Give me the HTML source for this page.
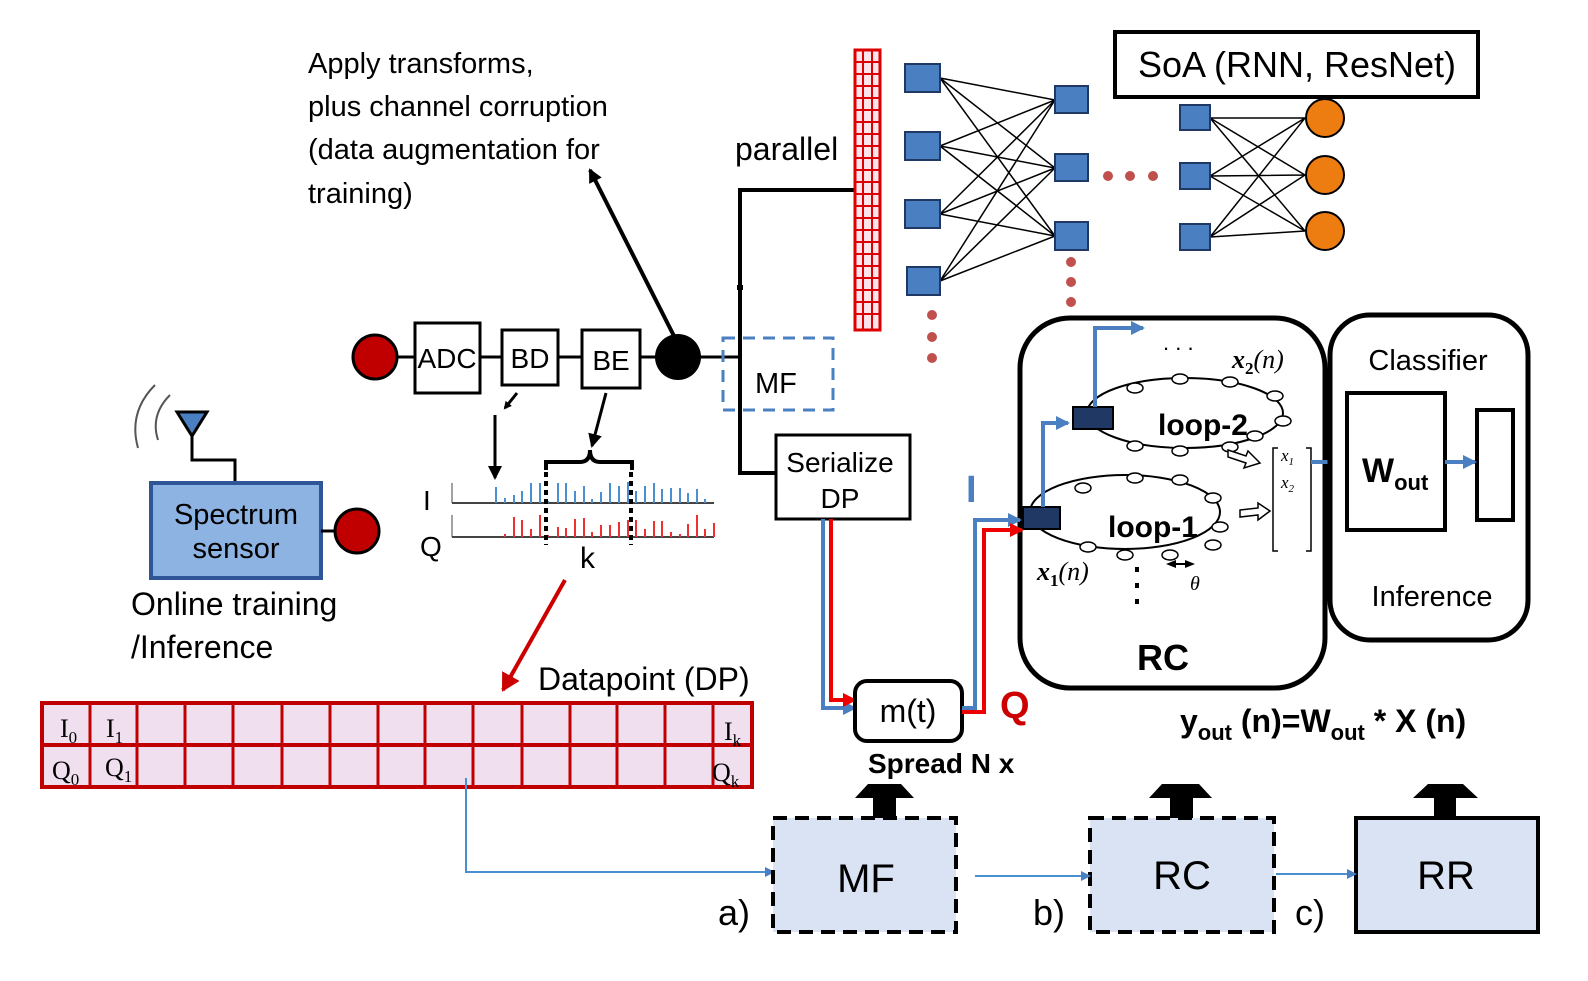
<!DOCTYPE html>
<html><head><meta charset="utf-8"><style>
body{margin:0;background:#fff}
svg{display:block;font-family:"Liberation Sans",sans-serif}
</style></head><body>
<svg width="1588" height="981" viewBox="0 0 1588 981" xmlns="http://www.w3.org/2000/svg">
<defs>
<marker id="ab" markerWidth="8" markerHeight="8" refX="6" refY="4" orient="auto" markerUnits="userSpaceOnUse"><path d="M0,0 L8,4 L0,8 z" fill="#000"/></marker>
<marker id="ab2" markerWidth="14" markerHeight="14" refX="12" refY="7" orient="auto" markerUnits="userSpaceOnUse"><path d="M0,0 L14,7 L0,14 z" fill="#000"/></marker>
<marker id="abl" markerWidth="14" markerHeight="14" refX="12" refY="7" orient="auto" markerUnits="userSpaceOnUse"><path d="M0,0 L14,7 L0,14 z" fill="#4a7fc1"/></marker>
<marker id="abls" markerWidth="10" markerHeight="10" refX="8" refY="5" orient="auto" markerUnits="userSpaceOnUse"><path d="M0,0 L10,5 L0,10 z" fill="#4a7fc1"/></marker>
<marker id="abr" markerWidth="14" markerHeight="14" refX="12" refY="7" orient="auto" markerUnits="userSpaceOnUse"><path d="M0,0 L14,7 L0,14 z" fill="#e00"/></marker>
<marker id="abdr" markerWidth="20" markerHeight="20" refX="16" refY="10" orient="auto" markerUnits="userSpaceOnUse"><path d="M0,0 L18,10 L0,20 z" fill="#c00"/></marker>
</defs>

<!-- text top -->
<g font-size="29" fill="#000">
<text x="308" y="73">Apply transforms,</text>
<text x="308" y="116">plus channel corruption</text>
<text x="308" y="159">(data augmentation for</text>
<text x="308" y="203">training)</text>
<text x="735" y="160" font-size="32">parallel</text>
</g>
<line x1="676" y1="340" x2="590" y2="170" stroke="#000" stroke-width="4" marker-end="url(#ab2)"/>

<!-- chain -->
<circle cx="375" cy="357" r="22" fill="#c00000" stroke="#000" stroke-width="3"/>
<line x1="397" y1="357" x2="415" y2="357" stroke="#000" stroke-width="3"/>
<rect x="415" y="323" width="65" height="70" fill="#fff" stroke="#000" stroke-width="3"/>
<text x="447" y="368" font-size="28" text-anchor="middle">ADC</text>
<line x1="480" y1="357" x2="502" y2="357" stroke="#000" stroke-width="3"/>
<rect x="502" y="330" width="56" height="55" fill="#fff" stroke="#000" stroke-width="3"/>
<text x="530" y="368" font-size="28" text-anchor="middle">BD</text>
<line x1="558" y1="357" x2="582" y2="357" stroke="#000" stroke-width="3"/>
<rect x="582" y="330" width="58" height="58" fill="#fff" stroke="#000" stroke-width="3"/>
<text x="611" y="370" font-size="28" text-anchor="middle">BE</text>
<line x1="640" y1="357" x2="656" y2="357" stroke="#000" stroke-width="3"/>
<circle cx="678" cy="357" r="23" fill="#000"/>
<line x1="700" y1="357" x2="740" y2="357" stroke="#000" stroke-width="3"/>
<path d="M858,190 H740 V473 H776" fill="none" stroke="#000" stroke-width="4"/>
<line x1="740" y1="285" x2="740" y2="290" stroke="#000" stroke-width="6"/>
<rect x="723" y="338" width="110" height="72" fill="none" stroke="#4a7fc1" stroke-width="3" stroke-dasharray="12,8"/>
<text x="755" y="393" font-size="29">MF</text>
<rect x="776" y="435" width="134" height="84" fill="#fff" stroke="#000" stroke-width="3"/>
<text x="840" y="472" font-size="28" text-anchor="middle">Serialize</text>
<text x="840" y="508" font-size="28" text-anchor="middle">DP</text>

<!-- small arrows to plot -->
<line x1="517" y1="393" x2="505" y2="408" stroke="#000" stroke-width="3" marker-end="url(#ab)"/>
<line x1="495" y1="415" x2="495" y2="478" stroke="#000" stroke-width="3" marker-end="url(#ab2)"/>
<line x1="606" y1="393" x2="592" y2="446" stroke="#000" stroke-width="3" marker-end="url(#ab2)"/>
<path d="M546,470 V462 H580 Q590,462 590,450 Q590,462 600,462 H632 V470" fill="none" stroke="#000" stroke-width="4"/>

<!-- I/Q plot -->
<text x="423" y="510" font-size="28">I</text>
<text x="420" y="556" font-size="28">Q</text>
<line x1="452" y1="503" x2="714" y2="503" stroke="#444" stroke-width="2"/>
<line x1="452" y1="483" x2="452" y2="503" stroke="#444" stroke-width="1"/>
<line x1="452" y1="537" x2="714" y2="537" stroke="#444" stroke-width="2"/>
<line x1="452" y1="515" x2="452" y2="537" stroke="#444" stroke-width="1"/>
<g stroke="#4a90d0" stroke-width="2">
<path d="M496,503v-16 M505,503v-5 M514,503v-8 M522,503v-12 M531,503v-20 M540,503v-20 M548,503v-2 M558,503v-20 M566,503v-20 M575,503v-12 M584,503v-17 M592,503v-4 M601,503v-11 M610,503v-20 M619,503v-17 M628,503v-21 M636,503v-12 M645,503v-17 M654,503v-20 M662,503v-14 M671,503v-15 M680,503v-15 M688,503v-10 M697,503v-14 M705,503v-4"/>
</g>
<g stroke="#f03030" stroke-width="2">
<path d="M505,537v-3 M514,537v-20 M522,537v-17 M531,537v-8 M540,537v-22 M548,537v-2 M558,537v-10 M566,537v-9 M575,537v-18 M584,537v-19 M592,537v-5 M601,537v-12 M610,537v-12 M619,537v-15 M628,537v-17 M636,537v-17 M645,537v-8 M654,537v-16 M662,537v-16 M671,537v-5 M680,537v-3 M688,537v-13 M697,537v-22 M705,537v-8 M714,537v-14"/>
</g>
<line x1="546" y1="472" x2="546" y2="545" stroke="#000" stroke-width="4" stroke-dasharray="5,4"/>
<line x1="631" y1="472" x2="631" y2="545" stroke="#000" stroke-width="4" stroke-dasharray="5,4"/>
<text x="580" y="568" font-size="30">k</text>
<line x1="565" y1="580" x2="503" y2="690" stroke="#c00" stroke-width="4" marker-end="url(#abdr)"/>

<!-- spectrum sensor -->
<path d="M170,395 Q150,415 158,440 M155,385 Q128,412 138,448" fill="none" stroke="#555" stroke-width="2"/>
<path d="M177,412 H207 L192,436 Z" fill="#4a7fc1" stroke="#000" stroke-width="3"/>
<path d="M192,436 V460 H235 V483" fill="none" stroke="#000" stroke-width="3"/>
<rect x="151" y="483" width="170" height="95" fill="#8db3e2" stroke="#2f5597" stroke-width="4"/>
<text x="236" y="524" font-size="29" text-anchor="middle">Spectrum</text>
<text x="236" y="558" font-size="29" text-anchor="middle">sensor</text>
<line x1="321" y1="531" x2="335" y2="531" stroke="#000" stroke-width="3"/>
<circle cx="357" cy="531" r="22" fill="#c00000" stroke="#000" stroke-width="3"/>
<text x="131" y="615" font-size="32">Online training</text>
<text x="131" y="658" font-size="32">/Inference</text>

<!-- datapoint -->
<text x="538" y="690" font-size="32">Datapoint (DP)</text>
<rect x="42" y="703" width="710" height="84" fill="#f0e0ef" stroke="#c00000" stroke-width="4"/>
<line x1="42" y1="745" x2="752" y2="745" stroke="#c00000" stroke-width="4"/>
<g stroke="#c00000" stroke-width="3">
<path d="M90,703V787 M137,703V787 M185,703V787 M233,703V787 M282,703V787 M330,703V787 M378,703V787 M425,703V787 M473,703V787 M522,703V787 M570,703V787 M617,703V787 M665,703V787 M713,703V787"/>
</g>
<g font-family="Liberation Serif,serif" font-size="26">
<text x="60" y="737">I<tspan font-size="17" dy="6">0</tspan></text>
<text x="106" y="737">I<tspan font-size="17" dy="6">1</tspan></text>
<text x="724" y="740">I<tspan font-size="17" dy="6">k</tspan></text>
<text x="52" y="779">Q<tspan font-size="17" dy="6">0</tspan></text>
<text x="105" y="776">Q<tspan font-size="17" dy="6">1</tspan></text>
<text x="712" y="781">Q<tspan font-size="17" dy="6">k</tspan></text>
</g>
<path d="M466,778 V872 H773" fill="none" stroke="#4a90d0" stroke-width="2" marker-end="url(#abls)"/>

<!-- NN -->
<rect x="855" y="50" width="25" height="280" fill="#fce4ec" stroke="#d00" stroke-width="3"/>
<g stroke="#d00" stroke-width="2">
<line x1="863" y1="50" x2="863" y2="330"/><line x1="872" y1="50" x2="872" y2="330"/>
<path d="M855,62H880M855,74H880M855,86H880M855,98H880M855,110H880M855,122H880M855,134H880M855,146H880M855,158H880M855,170H880M855,182H880M855,194H880M855,206H880M855,218H880M855,230H880M855,242H880M855,254H880M855,266H880M855,278H880M855,290H880M855,302H880M855,314H880"/>
</g>
<g stroke="#000" stroke-width="1.5">
<path d="M940,78L1055,100M940,78L1055,168M940,78L1055,236 M940,146L1055,100M940,146L1055,168M940,146L1055,236 M940,214L1055,100M940,214L1055,168M940,214L1055,236 M940,281L1055,100M940,281L1055,168M940,281L1055,236"/>
<path d="M1210,118L1305,118M1210,118L1305,175M1210,118L1305,231 M1210,176L1305,118M1210,176L1305,175M1210,176L1305,231 M1210,237L1305,118M1210,237L1305,175M1210,237L1305,231"/>
</g>
<g fill="#4a7fc1" stroke="#1f3864" stroke-width="2">
<rect x="905" y="64" width="35" height="28"/><rect x="905" y="132" width="35" height="28"/><rect x="905" y="200" width="35" height="28"/><rect x="907" y="267" width="33" height="28"/>
<rect x="1055" y="86" width="33" height="27"/><rect x="1055" y="154" width="33" height="27"/><rect x="1055" y="222" width="33" height="28"/>
<rect x="1180" y="105" width="30" height="25"/><rect x="1180" y="163" width="30" height="26"/><rect x="1180" y="224" width="30" height="26"/>
</g>
<g fill="#ed7d10" stroke="#000" stroke-width="2">
<circle cx="1325" cy="118" r="19"/><circle cx="1325" cy="175" r="19"/><circle cx="1325" cy="231" r="19"/>
</g>
<g fill="#c0504d">
<circle cx="1108" cy="176" r="5"/><circle cx="1130" cy="176" r="5"/><circle cx="1153" cy="176" r="5"/>
<circle cx="932" cy="315" r="5"/><circle cx="932" cy="337" r="5"/><circle cx="932" cy="358" r="5"/>
<circle cx="1071" cy="262" r="5"/><circle cx="1071" cy="282" r="5"/><circle cx="1071" cy="302" r="5"/>
</g>
<rect x="1115" y="32" width="363" height="65" fill="#fff" stroke="#000" stroke-width="4"/>
<text x="1297" y="77" font-size="36" text-anchor="middle">SoA (RNN, ResNet)</text>

<!-- RC -->
<rect x="1020" y="318" width="305" height="370" rx="50" fill="#fff" stroke="#000" stroke-width="5"/>
<text x="1163" y="670" font-size="36" font-weight="bold" text-anchor="middle">RC</text>
<text x="1163" y="350" font-size="22">. . .</text>
<ellipse cx="1185" cy="413" rx="98" ry="35" fill="none" stroke="#000" stroke-width="2"/>
<ellipse cx="1125" cy="512" rx="95" ry="37" fill="none" stroke="#000" stroke-width="2"/>
<g fill="#fff" stroke="#000" stroke-width="1.5">
<ellipse cx="1135" cy="388" rx="8" ry="5"/><ellipse cx="1180" cy="379" rx="8" ry="5"/><ellipse cx="1230" cy="382" rx="8" ry="5"/><ellipse cx="1275" cy="396" rx="8" ry="5"/><ellipse cx="1283" cy="421" rx="8" ry="5"/><ellipse cx="1135" cy="446" rx="8" ry="5"/><ellipse cx="1180" cy="451" rx="8" ry="5"/><ellipse cx="1230" cy="447" rx="8" ry="5"/><ellipse cx="1255" cy="436" rx="8" ry="5"/>
<ellipse cx="1083" cy="488" rx="8" ry="5"/><ellipse cx="1135" cy="478" rx="8" ry="5"/><ellipse cx="1180" cy="480" rx="8" ry="5"/><ellipse cx="1213" cy="498" rx="8" ry="5"/><ellipse cx="1220" cy="527" rx="8" ry="5"/><ellipse cx="1213" cy="545" rx="8" ry="5"/><ellipse cx="1088" cy="547" rx="8" ry="5"/><ellipse cx="1125" cy="555" rx="8" ry="5"/><ellipse cx="1170" cy="555" rx="8" ry="5"/>
</g>
<rect x="1023" y="507" width="37" height="22" fill="#1f3864" stroke="#000" stroke-width="2"/>
<rect x="1073" y="407" width="40" height="22" fill="#1f3864" stroke="#000" stroke-width="2"/>
<path d="M1043,507 V423 H1068" fill="none" stroke="#4a7fc1" stroke-width="4" marker-end="url(#abl)"/>
<path d="M1095,407 V328 H1143" fill="none" stroke="#4a7fc1" stroke-width="4" marker-end="url(#abl)"/>
<text x="1158" y="435" font-size="30" font-weight="bold">loop-2</text>
<text x="1108" y="537" font-size="30" font-weight="bold">loop-1</text>
<text x="1232" y="368" font-size="26" font-family="Liberation Serif,serif" font-style="italic" font-weight="bold">x<tspan font-size="17" dy="6" font-style="normal">2</tspan><tspan dy="-6" font-weight="normal">(n)</tspan></text>
<text x="1037" y="580" font-size="26" font-family="Liberation Serif,serif" font-style="italic" font-weight="bold">x<tspan font-size="17" dy="6" font-style="normal">1</tspan><tspan dy="-6" font-weight="normal">(n)</tspan></text>
<text x="1190" y="590" font-size="20" font-family="Liberation Serif,serif" font-style="italic">θ</text>
<path d="M1166,564 L1176,560 L1176,568 Z M1195,564 L1185,560 L1185,568 Z" fill="#000"/>
<line x1="1172" y1="564" x2="1190" y2="564" stroke="#000" stroke-width="2"/>
<g fill="#000"><rect x="1135" y="567" width="4" height="5"/><rect x="1135" y="583" width="4" height="5"/><rect x="1135" y="599" width="4" height="5"/></g>
<path d="M1228,450 l18,6 l2,-5 l12,12 l-16,5 l2,-5 l-18,-6 z M1240,510 l18,-2 l0,-5 l12,8 l-12,9 l0,-5 l-18,2 z" fill="#fff" stroke="#000" stroke-width="1.5"/>
<path d="M1278,448 h-5 v103 h5 M1306,448 h5 v103 h-5" fill="none" stroke="#000" stroke-width="1.5"/>
<text x="1281" y="461" font-size="17" font-family="Liberation Serif,serif" font-style="italic">x<tspan font-size="11" dy="4">1</tspan></text>
<text x="1281" y="488" font-size="17" font-family="Liberation Serif,serif" font-style="italic">x<tspan font-size="11" dy="4">2</tspan></text>
<path d="M1311,462 H1345" stroke="#4a7fc1" stroke-width="4" marker-end="url(#abl)"/>

<!-- classifier -->
<rect x="1330" y="315" width="198" height="325" rx="40" fill="#fff" stroke="#000" stroke-width="5"/>
<text x="1428" y="370" font-size="29" text-anchor="middle">Classifier</text>
<text x="1432" y="606" font-size="29" text-anchor="middle">Inference</text>
<rect x="1347" y="393" width="98" height="137" fill="#fff" stroke="#000" stroke-width="4"/>
<text x="1362" y="482" font-size="34" font-weight="bold">W<tspan font-size="22" dy="8">out</tspan></text>
<rect x="1477" y="410" width="36" height="110" fill="#fff" stroke="#000" stroke-width="4"/>
<path d="M1445,462 H1475" stroke="#4a7fc1" stroke-width="4" marker-end="url(#abl)"/>

<!-- I/Q lines -->
<path d="M823,519 V708 H855" fill="none" stroke="#4a7fc1" stroke-width="4" marker-end="url(#abl)"/>
<path d="M831,519 V700 H855" fill="none" stroke="#e00" stroke-width="4" marker-end="url(#abr)"/>
<rect x="855" y="681" width="107" height="60" rx="12" fill="#fff" stroke="#000" stroke-width="4"/>
<text x="908" y="722" font-size="32" text-anchor="middle">m(t)</text>
<path d="M962,708 H975 V520 H1020" fill="none" stroke="#4a7fc1" stroke-width="4" marker-end="url(#abl)"/>
<path d="M962,712 H984 V530 H1022" fill="none" stroke="#e00" stroke-width="4" marker-end="url(#abr)"/>
<text x="966" y="502" font-size="38" font-weight="bold" fill="#4a7fc1">I</text>
<text x="1000" y="718" font-size="38" font-weight="bold" fill="#c00">Q</text>
<text x="868" y="773" font-size="28" font-weight="bold">Spread N x</text>
<text x="1180" y="732" font-size="32" font-weight="bold">y<tspan font-size="22" dy="8">out</tspan><tspan dy="-8"> (n)=W</tspan><tspan font-size="22" dy="8">out</tspan><tspan dy="-8"> * X (n)</tspan></text>

<!-- bottom -->
<g fill="#000">
<path d="M855,798 L868,784 L901,784 L914,798 L896,798 L896,818 L873,818 L873,798 Z"/>
<path d="M1149,798 L1162,784 L1199,784 L1212,798 L1193,798 L1193,818 L1170,818 L1170,798 Z"/>
<path d="M1413,798 L1428,784 L1463,784 L1478,798 L1456,798 L1456,818 L1434,818 L1434,798 Z"/>
</g>
<rect x="773" y="818" width="183" height="114" fill="#dae3f3" stroke="#000" stroke-width="4" stroke-dasharray="14,8"/>
<text x="866" y="892" font-size="40" text-anchor="middle">MF</text>
<rect x="1090" y="818" width="184" height="114" fill="#dae3f3" stroke="#000" stroke-width="4" stroke-dasharray="14,8"/>
<text x="1182" y="889" font-size="40" text-anchor="middle">RC</text>
<rect x="1356" y="818" width="182" height="114" fill="#dae3f3" stroke="#000" stroke-width="4"/>
<text x="1446" y="889" font-size="40" text-anchor="middle">RR</text>
<path d="M975,876 H1089" stroke="#4a90d0" stroke-width="2" marker-end="url(#abls)"/>
<path d="M1276,874 H1355" stroke="#4a90d0" stroke-width="2" marker-end="url(#abls)"/>
<text x="718" y="925" font-size="36">a)</text>
<text x="1033" y="925" font-size="36">b)</text>
<text x="1295" y="925" font-size="36">c)</text>
</svg>
</body></html>
